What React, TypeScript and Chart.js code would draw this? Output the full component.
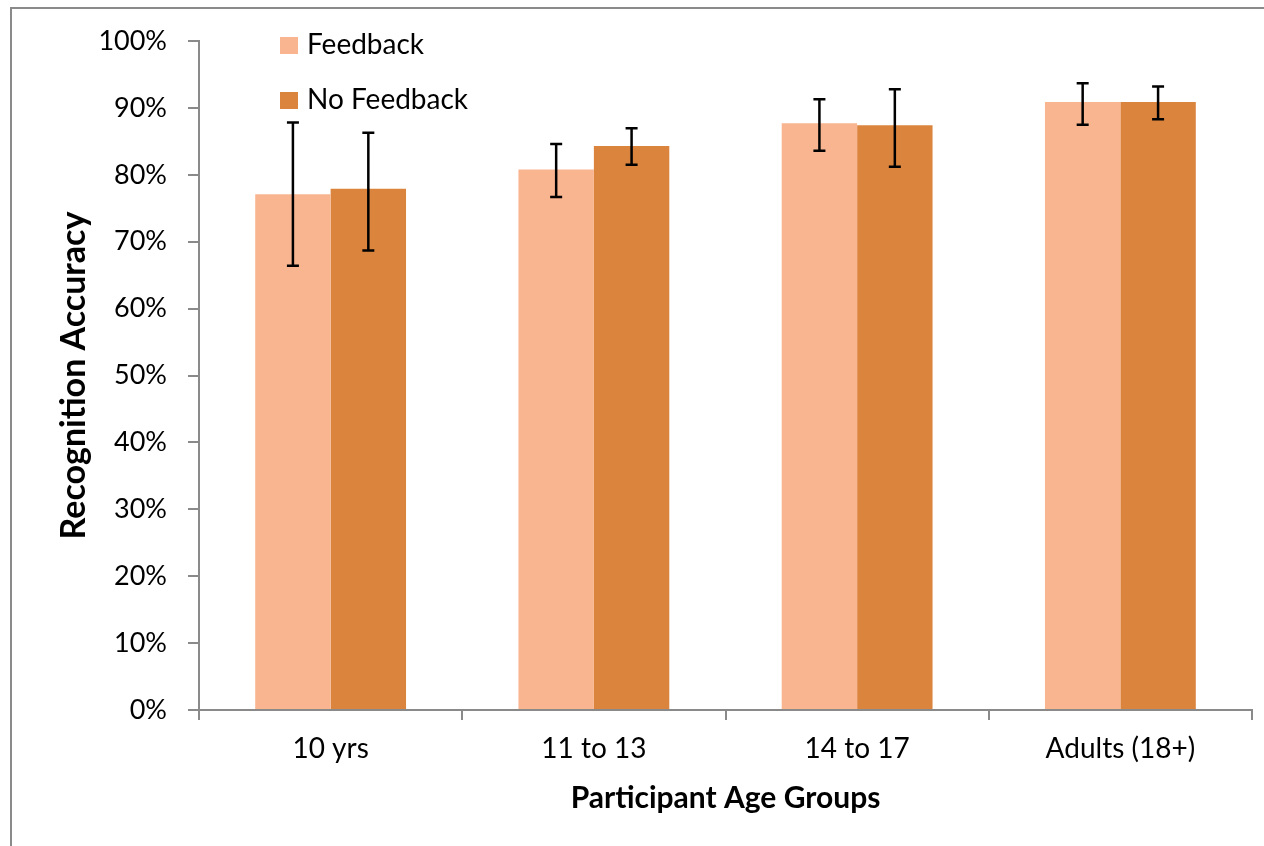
import React, { useEffect, useRef } from "react";
import { Chart, registerables } from "chart.js";

Chart.register(...registerables);

const categories = ["10 yrs", "11 to 13", "14 to 17", "Adults (18+)"];
const feedbackValues = [77.1, 80.8, 87.7, 90.9];
const feedbackHigh = [87.8, 84.6, 91.3, 93.7];
const feedbackLow = [66.4, 76.7, 83.6, 87.5];
const noFeedbackValues = [77.9, 84.3, 87.4, 90.9];
const noFeedbackHigh = [86.3, 86.95, 92.8, 93.2];
const noFeedbackLow = [68.7, 81.5, 81.2, 88.3];
const yTicks = [0, 10, 20, 30, 40, 50, 60, 70, 80, 90, 100];

const FONT = "Lato, 'Open Sans', sans-serif";
const AXIS_GRAY = "#8a8a8a";

const errorBarPlugin = {
  id: "errorBars",
  afterDatasetsDraw(chart: any) {
    const { ctx } = chart;
    const yScale = chart.scales.y;
    chart.data.datasets.forEach((ds: any, di: number) => {
      const meta = chart.getDatasetMeta(di);
      if (!ds.errHigh) return;
      meta.data.forEach((bar: any, i: number) => {
        const x = bar.x;
        const yh = yScale.getPixelForValue(ds.errHigh[i]);
        const yl = yScale.getPixelForValue(ds.errLow[i]);
        ctx.save();
        ctx.strokeStyle = "#000";
        ctx.lineWidth = 2.5;
        ctx.beginPath();
        ctx.moveTo(x, yh);
        ctx.lineTo(x, yl);
        ctx.moveTo(x - 6, yh);
        ctx.lineTo(x + 6, yh);
        ctx.moveTo(x - 6, yl);
        ctx.lineTo(x + 6, yl);
        ctx.stroke();
        ctx.restore();
      });
    });
  },
};

const legendPlugin = {
  id: "customLegend",
  afterDraw(chart: any) {
    const { ctx, chartArea } = chart;
    const x0 = chartArea.left + 81;
    chart.data.datasets.forEach((ds: any, i: number) => {
      const cy = chartArea.top + 4 + i * 55;
      ctx.save();
      ctx.fillStyle = ds.backgroundColor;
      ctx.fillRect(x0, cy - 8, 18, 17);
      ctx.fillStyle = "#000";
      ctx.font = `28px ${FONT}`;
      ctx.textBaseline = "middle";
      ctx.textAlign = "left";
      ctx.fillText(ds.label, x0 + 27, cy);
      ctx.restore();
    });
  },
};

const framePlugin = {
  id: "frame",
  beforeDraw(chart: any) {
    const { ctx, width, height } = chart;
    ctx.save();
    ctx.fillStyle = "#fff";
    ctx.fillRect(0, 0, width, height);
    ctx.strokeStyle = AXIS_GRAY;
    ctx.lineWidth = 2;
    ctx.beginPath();
    ctx.moveTo(11, height);
    ctx.lineTo(11, 8);
    ctx.lineTo(width, 8);
    ctx.stroke();
    ctx.restore();
  },
};

export default function App() {
  const canvasRef = useRef<HTMLCanvasElement | null>(null);

  useEffect(() => {
    const canvas = canvasRef.current;
    if (!canvas) return;
    const chart = new Chart(canvas, {
      type: "bar",
      data: {
        labels: categories,
        datasets: [
          {
            label: "Feedback",
            data: feedbackValues,
            backgroundColor: "#F9B590",
            errHigh: feedbackHigh,
            errLow: feedbackLow,
            categoryPercentage: 0.573,
            barPercentage: 1,
          } as any,
          {
            label: "No Feedback",
            data: noFeedbackValues,
            backgroundColor: "#DB843E",
            errHigh: noFeedbackHigh,
            errLow: noFeedbackLow,
            categoryPercentage: 0.573,
            barPercentage: 1,
          } as any,
        ],
      },
      options: {
        responsive: false,
        animation: false,
        devicePixelRatio: 1,
        layout: { padding: { left: 0, top: 41, right: 12, bottom: 0 } },
        plugins: {
          legend: { display: false },
          tooltip: { enabled: false },
        },
        scales: {
          x: {
            grid: {
              display: true,
              drawOnChartArea: false,
              drawTicks: true,
              tickLength: 10,
              color: AXIS_GRAY,
              lineWidth: 2,
              offset: true,
            },
            border: { display: true, color: AXIS_GRAY, width: 2 },
            ticks: {
              color: "#000",
              font: { family: FONT, size: 28 },
              padding: 12,
              maxRotation: 0,
            },
            title: {
              display: true,
              text: "Participant Age Groups",
              color: "#000",
              font: { family: FONT, size: 30, weight: "bold" },
              padding: { top: 4, bottom: 30 },
            },
            afterFit(scale: any) {
              scale.height = 136;
            },
          },
          y: {
            min: 0,
            max: 100,
            afterBuildTicks(scale: any) {
              scale.ticks = yTicks.map((v) => ({ value: v }));
            },
            grid: {
              display: true,
              drawOnChartArea: false,
              drawTicks: true,
              tickLength: 11,
              color: AXIS_GRAY,
              lineWidth: 2,
            },
            border: { display: true, color: AXIS_GRAY, width: 2 },
            ticks: {
              color: "#000",
              font: { family: FONT, size: 27 },
              padding: 21,
              callback: (v: any) => `${v}%`,
            },
            title: {
              display: true,
              text: "Recognition Accuracy",
              color: "#000",
              font: { family: FONT, size: 34, weight: "bold" },
              padding: { top: 54, bottom: 4 },
            },
            afterFit(scale: any) {
              scale.width = 199;
            },
          },
        },
      } as any,
      plugins: [framePlugin, errorBarPlugin, legendPlugin],
    });
    return () => chart.destroy();
  }, []);

  return (
    <div style={{ position: "fixed", left: 0, top: 0, width: 1264, height: 846, background: "#fff" }}>
      <canvas ref={canvasRef} width={1264} height={846} style={{ display: "block" }} />
    </div>
  );
}
